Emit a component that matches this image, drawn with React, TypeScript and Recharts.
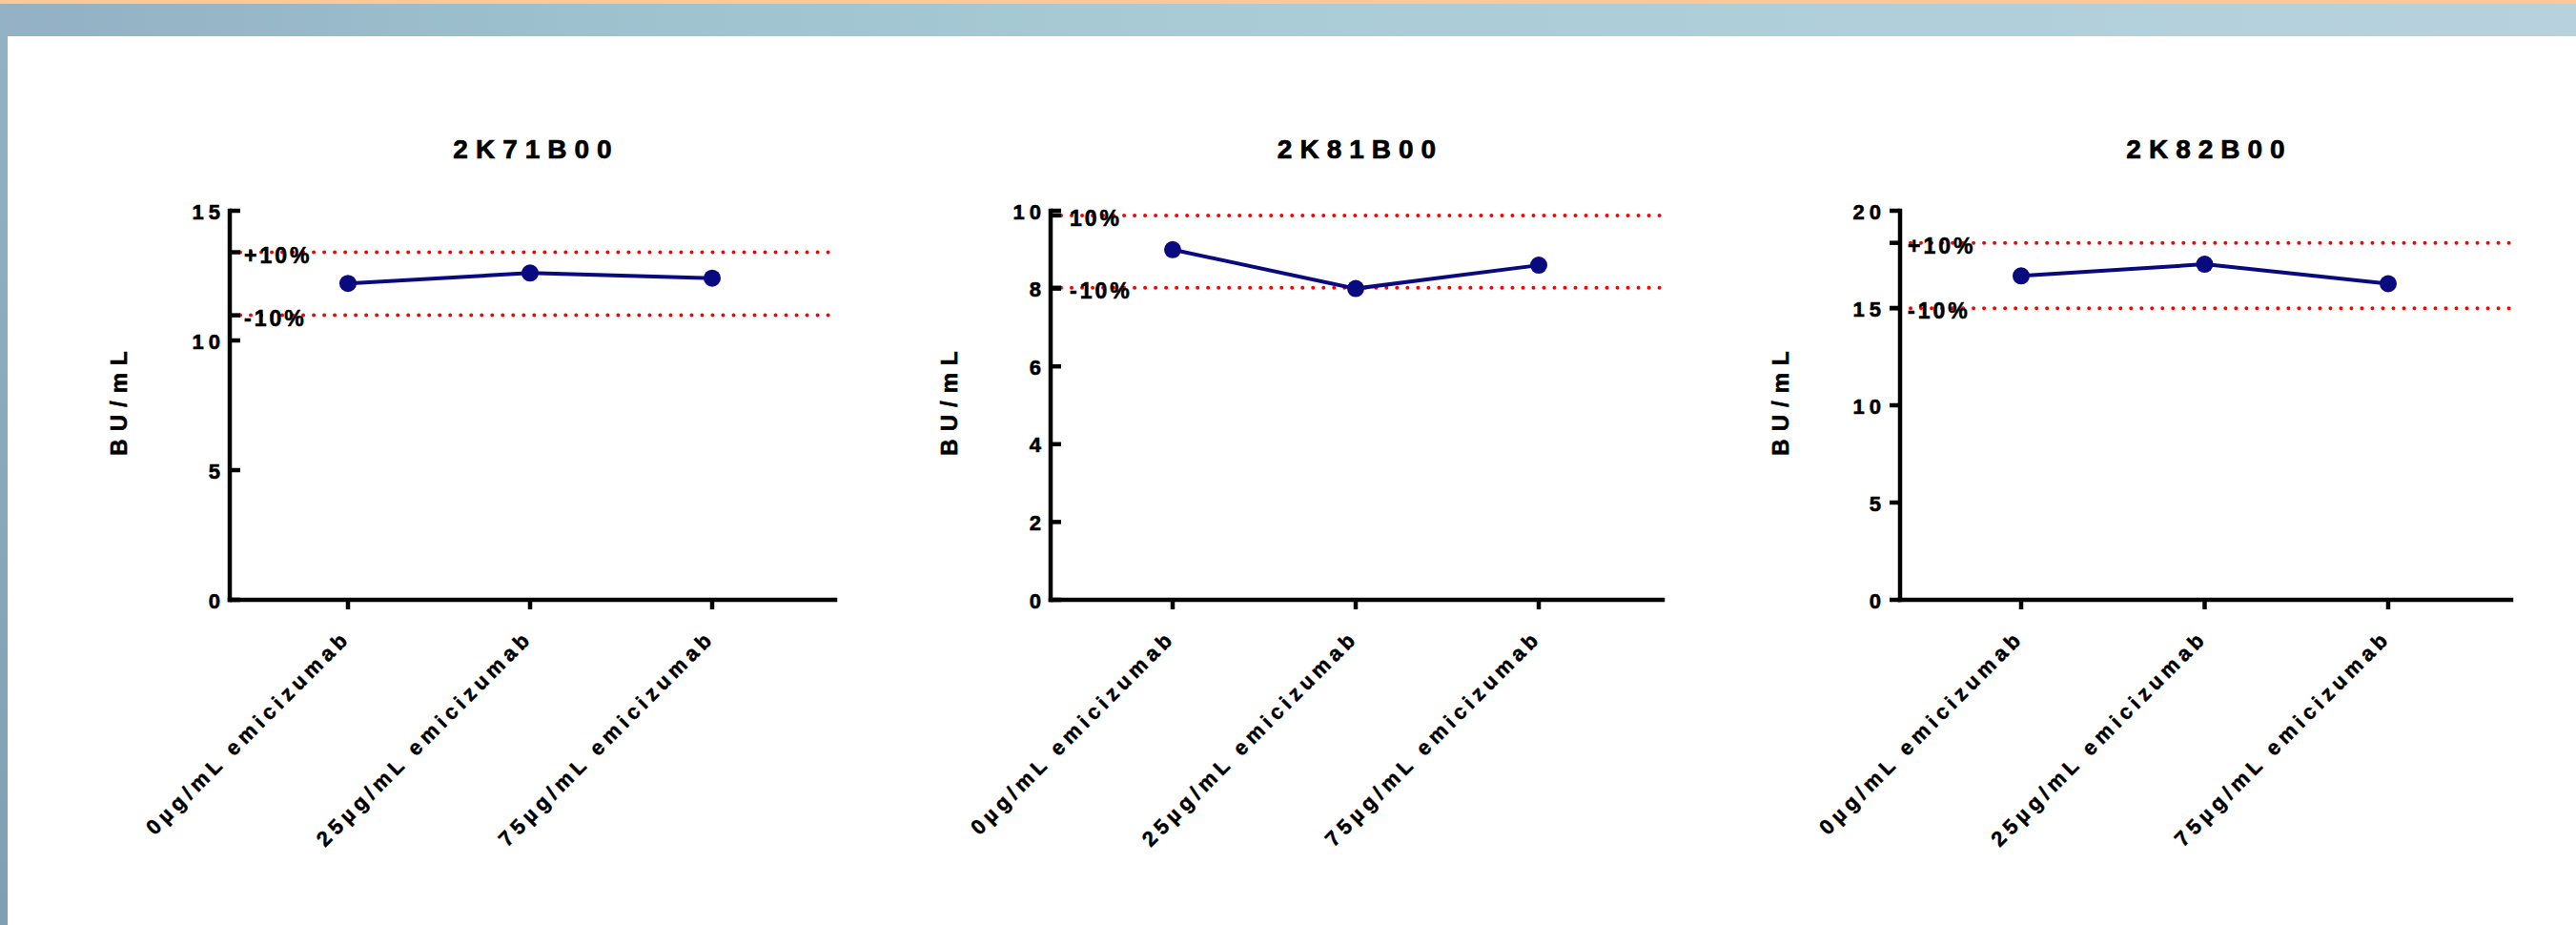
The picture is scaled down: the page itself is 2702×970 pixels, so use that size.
import React from "react";
import { LineChart, Line, XAxis, YAxis, ReferenceLine } from "recharts";

const categories = ["0µg/mL emicizumab", "25µg/mL emicizumab", "75µg/mL emicizumab"];
const titles = ["2K71B00", "2K81B00", "2K82B00"];

const values2K71 = [12.2, 12.6, 12.4];
const values2K81 = [9.0, 8.0, 8.6];
const values2K82 = [16.65, 17.25, 16.25];

const upperLimits = [13.4, 9.88, 18.35];
const lowerLimits = [10.97, 8.02, 14.99];
const upperLabels = ["+10%", "10%", "+10%"];
const lowerLabels = ["-10%", "-10%", "-10%"];

const yTicks2K71 = [0, 5, 10, 15];
const yTicks2K81 = [0, 2, 4, 6, 8, 10];
const yTicks2K82 = [0, 5, 10, 15, 20];

const NAVY = "#0a0a80";
const FONT = "'Liberation Sans', Arial, sans-serif";

type Cfg = {
  title: string;
  values: number[];
  ticks: number[];
  upper: number;
  lower: number;
  upperLabel: string;
  lowerLabel: string;
  axisX: number;
  plotW: number;
  padL: number;
  padR: number;
  tickDir: number; // 1 = ticks point into the plot, -1 = outward
  limitLabelDx: number;
  yLabelDx: number;
};

const charts: Cfg[] = [
  {
    title: titles[0], values: values2K71, ticks: yTicks2K71,
    upper: upperLimits[0], lower: lowerLimits[0],
    upperLabel: upperLabels[0], lowerLabel: lowerLabels[0],
    axisX: 241, plotW: 635, padL: 124, padR: 129, tickDir: 1, limitLabelDx: 15, yLabelDx: -116,
  },
  {
    title: titles[1], values: values2K81, ticks: yTicks2K81,
    upper: upperLimits[1], lower: lowerLimits[1],
    upperLabel: upperLabels[1], lowerLabel: lowerLabels[1],
    axisX: 1102, plotW: 642, padL: 128, padR: 130, tickDir: 1, limitLabelDx: 20, yLabelDx: -106,
  },
  {
    title: titles[2], values: values2K82, ticks: yTicks2K82,
    upper: upperLimits[2], lower: lowerLimits[2],
    upperLabel: upperLabels[2], lowerLabel: lowerLabels[2],
    axisX: 1993, plotW: 641, padL: 127, padR: 129, tickDir: -1, limitLabelDx: 8, yLabelDx: -125,
  },
];

const PLOT_TOP = 221;
const PLOT_BOTTOM = 629;
const H = 970;
const LEFT_SPACE = 200;

const makeYTick = (cfg: Cfg) => (props: any) => {
  const { x, y, payload } = props;
  const v = payload.value;
  const isUpper = v === cfg.upper;
  const isLower = v === cfg.lower;
  const tickEnd = x + cfg.tickDir * 11;
  const labelRight = cfg.tickDir > 0 ? x - 10 : x - 20;
  return (
    <g>
      <line x1={x} x2={tickEnd} y1={y} y2={y} stroke="#000" strokeWidth={4.5} />
      {isUpper || isLower ? (
        <text
          x={x + cfg.limitLabelDx}
          y={y + 3}
          dominantBaseline="central"
          fontFamily={FONT}
          fontWeight="bold"
          fontSize={23}
          letterSpacing={3}
          fill="#000"
          stroke="#000"
          strokeWidth={0.6}
        >
          {isUpper ? cfg.upperLabel : cfg.lowerLabel}
        </text>
      ) : (
        <text
          x={labelRight + 5}
          y={y + 1}
          textAnchor="end"
          dominantBaseline="central"
          fontFamily={FONT}
          fontWeight="bold"
          fontSize={22}
          letterSpacing={5}
          fill="#000"
          stroke="#000"
          strokeWidth={0.6}
        >
          {v}
        </text>
      )}
    </g>
  );
};

const XTick = (props: any) => {
  const { x, y, payload } = props;
  const tx = x + 4;
  const ty = y + 41;
  return (
    <g>
      <line x1={x} x2={x} y1={y} y2={y + 10} stroke="#000" strokeWidth={4.5} />
      <text
        x={tx}
        y={ty}
        transform={`rotate(-45, ${tx}, ${ty})`}
        textAnchor="end"
        fontFamily={FONT}
        fontWeight="bold"
        fontSize={22}
        letterSpacing={4.9}
        fill="#000"
        stroke="#000"
        strokeWidth={0.5}
      >
        {payload.value}
      </text>
    </g>
  );
};

const Panel = ({ cfg }: { cfg: Cfg }) => {
  const data = categories.map((name, i) => ({ name, value: cfg.values[i] }));
  const width = LEFT_SPACE + cfg.plotW + 20;
  const domainMax = cfg.ticks[cfg.ticks.length - 1];
  const allTicks = [...cfg.ticks, cfg.upper, cfg.lower];
  return (
    <div style={{ position: "absolute", left: cfg.axisX - LEFT_SPACE, top: 0, width, height: H }}>
      <div
        style={{
          position: "absolute",
          left: LEFT_SPACE,
          width: cfg.plotW,
          top: 140,
          height: 34,
          lineHeight: "34px",
          textAlign: "center",
          fontFamily: FONT,
          fontWeight: "bold",
          fontSize: 28,
          letterSpacing: 8,
          paddingLeft: 8,
          boxSizing: "border-box",
          WebkitTextStroke: "0.7px #000",
        }}
      >
        {cfg.title}
      </div>
      <div
        style={{
          position: "absolute",
          left: LEFT_SPACE + cfg.yLabelDx - 100,
          top: 423 - 16,
          width: 200,
          height: 32,
          lineHeight: "32px",
          textAlign: "center",
          transform: "rotate(-90deg)",
          fontFamily: FONT,
          fontWeight: "bold",
          fontSize: 24,
          letterSpacing: 8,
          paddingLeft: 8,
          boxSizing: "border-box",
          WebkitTextStroke: "0.6px #000",
        }}
      >
        BU/mL
      </div>
      <div style={{ position: "absolute", left: 0, top: 0 }}>
        <LineChart
          width={width}
          height={H}
          data={data}
          margin={{ top: PLOT_TOP, right: 20, bottom: 0, left: 0 }}
        >
          <XAxis
            dataKey="name"
            type="category"
            height={H - PLOT_BOTTOM}
            padding={{ left: cfg.padL, right: cfg.padR }}
            interval={0}
            tickSize={0}
            tickMargin={0}
            tickLine={false}
            axisLine={{ stroke: "#000", strokeWidth: 4.5, strokeLinecap: "square" }}
            tick={XTick}
          />
          <YAxis
            type="number"
            width={LEFT_SPACE}
            domain={[0, domainMax]}
            ticks={allTicks}
            interval={0}
            tickSize={0}
            tickMargin={0}
            tickLine={false}
            axisLine={{ stroke: "#000", strokeWidth: 4.5, strokeLinecap: "square" }}
            tick={makeYTick(cfg)}
          />
          <ReferenceLine
            y={cfg.upper}
            stroke="#ff0000"
            strokeWidth={4}
            strokeDasharray="0.01 11"
            strokeLinecap="round"
          />
          <ReferenceLine
            y={cfg.lower}
            stroke="#ff0000"
            strokeWidth={4}
            strokeDasharray="0.01 11"
            strokeLinecap="round"
          />
          <Line
            type="linear"
            dataKey="value"
            stroke={NAVY}
            strokeWidth={4}
            dot={{ r: 9, fill: NAVY, stroke: NAVY, strokeWidth: 0 }}
            isAnimationActive={false}
          />
        </LineChart>
      </div>
    </div>
  );
};

export default function App() {
  return (
    <div
      style={{
        position: "absolute",
        left: 0,
        top: 0,
        width: 2702,
        height: 970,
        overflow: "hidden",
        background: "#ffffff",
      }}
    >
      <div
        style={{
          position: "absolute",
          left: 0,
          top: 4,
          width: 2702,
          height: 34,
          background: "linear-gradient(to right, #93b0c4 0%, #9ec3cf 25%, #aaccd6 50%, #b0cfda 75%, #b8d2dd 100%)",
        }}
      />
      <div
        style={{
          position: "absolute",
          left: 0,
          top: 0,
          width: 8,
          height: 970,
          background: "linear-gradient(to bottom, #93b2c5, #7f9fb4)",
        }}
      />
      <div style={{ position: "absolute", left: 0, top: 0, width: 2702, height: 4, background: "#fec896" }} />
      {charts.map((c) => (
        <Panel key={c.title} cfg={c} />
      ))}
    </div>
  );
}
